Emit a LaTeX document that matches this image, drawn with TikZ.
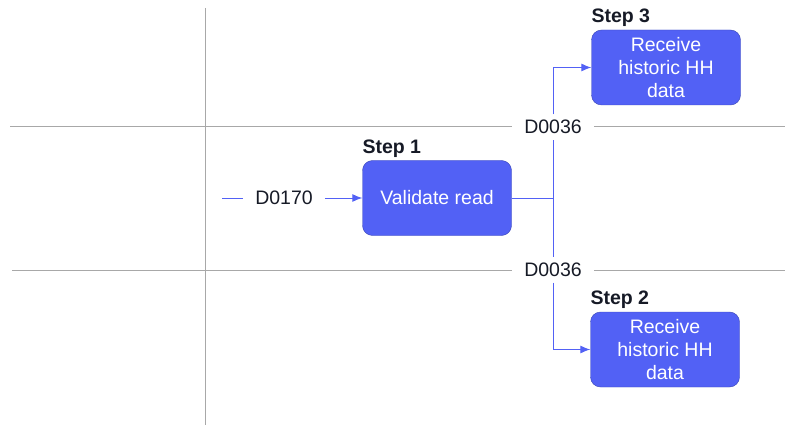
\documentclass[tikz,border=0pt]{standalone}
\usepackage{fontspec}
\setmainfont{Liberation Sans}
\usetikzlibrary{positioning}
\usetikzlibrary{calc}
\usetikzlibrary{arrows.meta}
\definecolor{step-blue}{HTML}{5261F5}
\definecolor{step-edge}{HTML}{3B47B5}
\colorlet{flow}{step-blue}
\definecolor{lane}{HTML}{A8A8A8}
\definecolor{ink}{HTML}{161A26}
\tikzset{
  stepbox/.style={draw=step-edge,fill=step-blue,text=white,rounded corners=10pt,
    minimum width=149pt,minimum height=75pt,align=center,
    font=\fontsize{19.5}{23}\selectfont},
  steplabel/.style={anchor=south west,inner sep=0pt,text=ink,font=\fontsize{19.5}{23}\selectfont\bfseries},
  flowlabel/.style={inner xsep=12pt,inner ysep=5.5pt,text=ink,font=\fontsize{19.5}{23}\selectfont},
  flow/.style={draw=flow,line width=0.9pt},
  lane/.style={draw=lane,line width=1pt},
}

\begin{document}
\begin{tikzpicture}[x=1pt,y=-1pt]
\useasboundingbox (0,0) rectangle (785,425);
% swimlanes
\draw[lane] (205,8) -- (205,425);
\node[flowlabel] (d36a) at (553,127) {D0036};
\node[flowlabel] (d36b) at (553,270) {D0036};
\draw[lane] (10,127) -- (d36a.west);
\draw[lane] (d36a.east) -- (785,127);
\draw[lane] (12,270) -- (d36b.west);
\draw[lane] (d36b.east) -- (785,270);
% steps
\node[stepbox] (step1) at (437,198) {Validate read};
\node[stepbox] (step3) at (666,67.5) {Receive\\historic HH\\data};
\node[stepbox] (step2) at (665,349.5) {Receive\\historic HH\\data};
\node[steplabel] (step1lbl) at ([yshift=3pt]step1.north west) {Step 1};
\node[steplabel] (step3lbl) at ([yshift=3pt]step3.north west) {Step 3};
\node[steplabel] (step2lbl) at ([yshift=3pt]step2.north west) {Step 2};
% flows
\node[flowlabel] (d170) at (284,198) {D0170};
\coordinate (start) at (222,198);
\coordinate (split) at (553,198);
\draw[flow] (start) -- (d170.west);
\draw[flow,-{Latex[length=10pt,width=8pt]}] (d170.east) -- (step1.west);
\draw[flow] (step1.east) -- (split);
\draw[flow] (split) -- (d36a.south);
\draw[flow] (split) -- (d36b.north);
\draw[flow,-{Latex[length=10pt,width=8pt]}] (d36a.north) |- (step3.west);
\draw[flow,-{Latex[length=10pt,width=8pt]}] (d36b.south) |- (step2.west);
\end{tikzpicture}
\end{document}
